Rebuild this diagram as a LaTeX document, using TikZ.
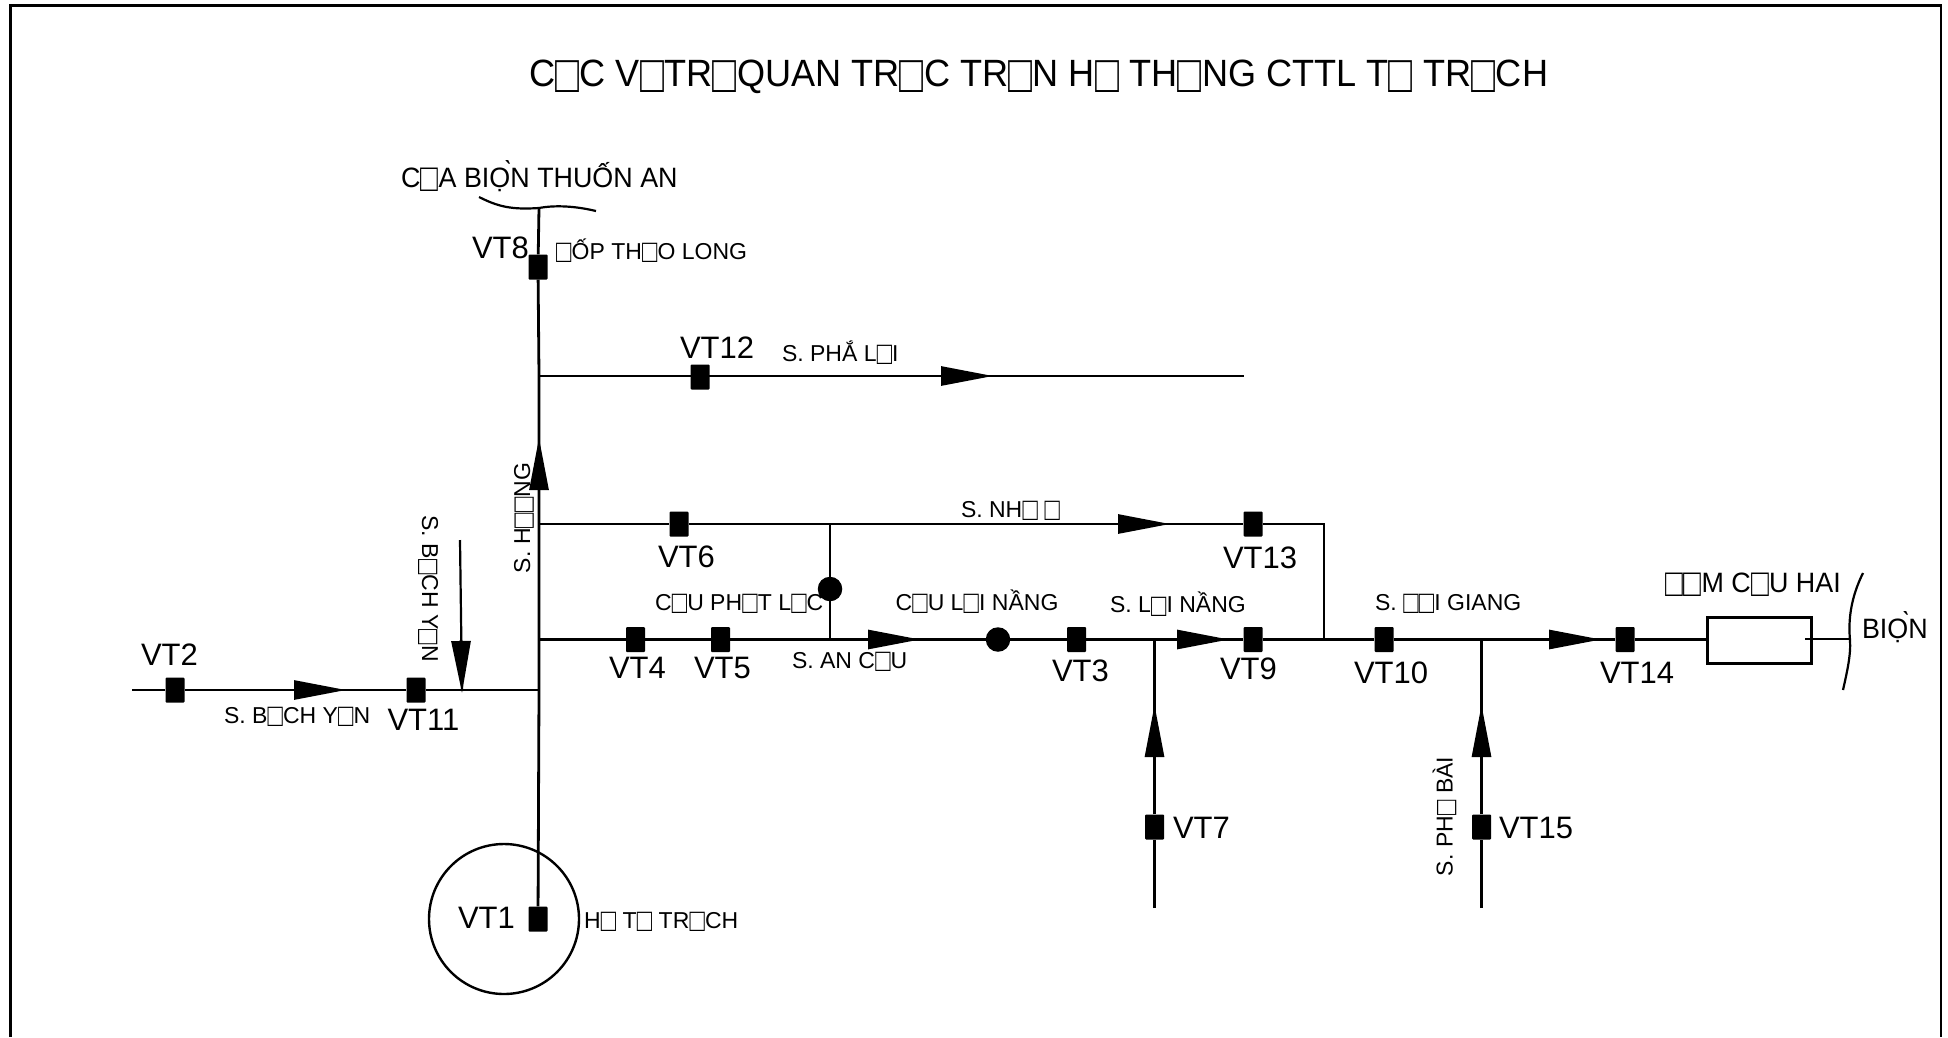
\documentclass[tikz,border=0pt]{standalone}
\usepackage{fontspec}
\setmainfont{Liberation Sans}
\usetikzlibrary{arrows.meta}
\newcommand{\acg}{\rlap{\raisebox{0.06em}{\kern-0.2em\`{}}}}
\newcommand{\bx}{\makebox[.68em][c]{\raisebox{-.17em}{\scalebox{1.1}[1.4]{□}}}}
\newcommand{\ttlw}[1]{\scalebox{.95}[1]{#1}}
\newcommand{\midw}[1]{\scalebox{.96}[1]{#1}}
\tikzset{
  x=1pt,y=-1pt,
  river/.style={line width=2.8pt,draw=black},
  flow/.style={line width=2.8pt,draw=black,-{Triangle[length=52pt,width=19pt,fill=black]}},
  gauge/.style={fill=black,rounded corners=1pt,minimum width=19pt,minimum height=25pt,inner sep=0pt},
  bridge/.style={circle,fill=black,minimum size=24.5pt,inner sep=0pt},
  lbl/.style={inner sep=0pt,outer sep=0pt,anchor=base west,text=black},
  vtlab/.style={lbl,font=\fontsize{31}{31}\selectfont},
  smlab/.style={lbl,font=\fontsize{23}{23}\selectfont},
  midlab/.style={lbl,font=\fontsize{28}{28}\selectfont},
  titlelab/.style={lbl,font=\fontsize{38}{38}\selectfont},
}
\begin{document}
\begin{tikzpicture}
\useasboundingbox (0,0) rectangle (1948,1037);
% frame
\coordinate (fbl) at (10.5,1037);
\coordinate (ftl) at (10.5,5.5);
\coordinate (ftr) at (1941,5.5);
\coordinate (fbr) at (1941,1037);
\draw[line width=2.7pt] (fbl) -- (ftl) -- (ftr) -- (fbr);
% junctions
\coordinate (jTop) at (539,208);
\coordinate (jPhaLoi) at (539,376);
\coordinate (endPhaLoi) at (1244,376);
\coordinate (jNhuY) at (539,524);
\coordinate (cornerNhuY) at (1324,524);
\coordinate (jAnCuu) at (539,639.5);
\coordinate (jNhuYdown) at (830,524);
\coordinate (jAnCuuUp) at (830,639.5);
\coordinate (jNhuYin) at (1324,639.5);
\coordinate (jBY) at (539,690);
\coordinate (startBY) at (132,690);
\coordinate (startByN) at (460,540);
\coordinate (jVT7) at (1154.5,639.5);
\coordinate (endVT7) at (1154.5,908);
\coordinate (jVT15) at (1481.5,639.5);
\coordinate (endVT15) at (1481.5,908);
\coordinate (seaIn) at (1805,639);
\coordinate (seaOut) at (1850,639);
% gauges
\node[gauge] (vt1) at (538,919) {};
\node[gauge] (vt2) at (175,690) {};
\node[gauge] (vt3) at (1076.5,639.5) {};
\node[gauge] (vt4) at (635.5,639.5) {};
\node[gauge] (vt5) at (720.5,639.5) {};
\node[gauge] (vt6) at (679,524) {};
\node[gauge] (vt7) at (1154.5,827) {};
\node[gauge] (vt8) at (538,267) {};
\node[gauge] (vt9) at (1253,639.5) {};
\node[gauge] (vt10) at (1384,639.5) {};
\node[gauge] (vt11) at (416,690) {};
\node[gauge] (vt12) at (700,377) {};
\node[gauge] (vt13) at (1253,524) {};
\node[gauge] (vt14) at (1625,639.5) {};
\node[gauge] (vt15) at (1481.5,827) {};
\node[bridge] (bPL) at (830,589) {};
\node[bridge] (bLN) at (998,639.5) {};
\node[draw=black,line width=2.5pt,minimum width=104pt,minimum height=46pt,inner sep=0pt] (dam) at (1759.5,640.5) {};
\node[circle,draw=black,line width=2.4pt,minimum size=150pt,inner sep=0pt] (lake) at (504,919) {};
% lines
\draw[river] (jTop) -- (vt8) -- (jPhaLoi) -- (jNhuY) -- (jAnCuu) -- (jBY) -- (vt1);
\draw[river] (jPhaLoi) -- (endPhaLoi);
\draw[river] (jNhuY) -- (vt6) -- (jNhuYdown) -- (vt13) -- (cornerNhuY) -- (jNhuYin);
\draw[river] (jNhuYdown) -- (bPL) -- (jAnCuuUp);
\draw[river] (jAnCuu) -- (vt4) -- (vt5) -- (jAnCuuUp) -- (bLN) -- (vt3) -- (jVT7) -- (vt9) -- (jNhuYin) -- (vt10) -- (jVT15) -- (vt14) -- (vt14 -| dam.west);
\draw[river] (jBY) -- (vt11) -- (vt2) -- (startBY);
\draw[river] (endVT7) -- (vt7) -- (jVT7);
\draw[river] (endVT15) -- (vt15) -- (jVT15);
\draw[river] (seaIn) -- (seaOut);
\coordinate (byEnd) at (462,691);
\draw[line width=2.2pt] (startByN) -- (byEnd);
% coast lines
\coordinate (c1) at (479,197);
\coordinate (c2) at (596,211);
\draw[line width=2.2pt] (c1) .. controls (497,206) and (510,210) .. (jTop) .. controls (555,205) and (575,206) .. (c2);
\coordinate (s1) at (1863,573);
\coordinate (s2) at (1850,640);
\coordinate (s3) at (1843,690);
\draw[line width=2.2pt] (s1) .. controls (1851,597) and (1848,620) .. (s2) .. controls (1851,655) and (1847,672) .. (s3);
% arrows
\coordinate (aPLb) at (938,376); \coordinate (aPLt) at (993,376);
\draw[flow] (aPLb) -- (aPLt);
\coordinate (aNYb) at (1116,524); \coordinate (aNYt) at (1170,524);
\draw[flow] (aNYb) -- (aNYt);
\coordinate (aACb) at (866,639.5); \coordinate (aACt) at (920,639.5);
\draw[flow] (aACb) -- (aACt);
\coordinate (aLNb) at (1174,639.5); \coordinate (aLNt) at (1229,639.5);
\draw[flow] (aLNb) -- (aLNt);
\coordinate (aDGb) at (1547,639.5); \coordinate (aDGt) at (1601,639.5);
\draw[flow] (aDGb) -- (aDGt);
\coordinate (aBYb) at (292,690); \coordinate (aBYt) at (346,690);
\draw[flow] (aBYb) -- (aBYt);
\coordinate (aBNb) at (461,640); \coordinate (aBNt) at (462,693);
\draw[flow] (aBNb) -- (aBNt);
\coordinate (aHb) at (539,494); \coordinate (aHt) at (539,438);
\draw[flow] (aHb) -- (aHt);
\coordinate (a7b) at (1154.5,759); \coordinate (a7t) at (1154.5,705);
\draw[flow] (a7b) -- (a7t);
\coordinate (a15b) at (1481.5,759); \coordinate (a15t) at (1481.5,705);
\draw[flow] (a15b) -- (a15t);
% labels
\node[titlelab] (title) at (529,86) {\ttlw{C\bx C V\bx TR\bx QUAN TR\bx C TR\bx N H\bx{} TH\bx NG CTTL T\bx{} TR\bx CH}};
\node[midlab] (tCua) at (401,187) {\midw{C\bx A BIỌ\acg N THUỐN AN}};
\node[vtlab] (t8) at (472,258) {VT8};
\node[smlab] (tDap) at (556,259) {\bx ỐP TH\bx O LONG};
\node[vtlab] (t12) at (680,358) {VT12};
\node[smlab] (tPha) at (782,361) {S. PHẮ L\bx I};
\node[smlab,rotate=90] (tHuong) at (530,573) {S. H\bx\bx NG};
\node[smlab,rotate=-90] (tByN) at (422,515.5) {S. B\bx CH Y\bx N};
\node[vtlab] (t2) at (141,665) {VT2};
\node[smlab] (tBy) at (224,723) {S. B\bx CH Y\bx N};
\node[vtlab] (t11) at (387.5,730) {VT11};
\node[vtlab] (t1) at (458,928) {VT1};
\node[smlab] (tHo) at (584,928) {H\bx{} T\bx{} TR\bx CH};
\node[vtlab] (t6) at (658,567) {VT6};
\node[smlab] (tNhu) at (961,517) {S. NH\bx{} \bx};
\node[vtlab] (t13) at (1223,568) {VT13};
\node[smlab] (tCPL) at (655,610) {C\bx U PH\bx T L\bx C};
\node[smlab] (tCLN) at (895.5,610) {C\bx U L\bx I NẦNG};
\node[smlab] (tSLN) at (1110,612.5) {S. L\bx I NẦNG};
\node[vtlab] (t4) at (609,678) {VT4};
\node[vtlab] (t5) at (694,678) {VT5};
\node[smlab] (tAC) at (792,668) {S. AN C\bx U};
\node[vtlab] (t3) at (1052,681) {VT3};
\node[vtlab] (t9) at (1220,679) {VT9};
\node[smlab] (tDG) at (1375,610) {S. \bx\bx I GIANG};
\node[vtlab] (t10) at (1354,683) {VT10};
\node[vtlab] (t14) at (1600,683) {VT14};
\node[midlab] (tDam) at (1665,592) {\midw{\bx\bx M C\bx U HAI}};
\node[midlab] (tBien) at (1862,638) {\midw{BIỌ\acg N}};
\node[vtlab] (t15) at (1499,838) {VT15};
\node[vtlab] (t7) at (1173,838) {VT7};
\node[smlab,rotate=90] (tPB) at (1452.5,876) {S. PH\bx{} BÀI};
\end{tikzpicture}
\end{document}
